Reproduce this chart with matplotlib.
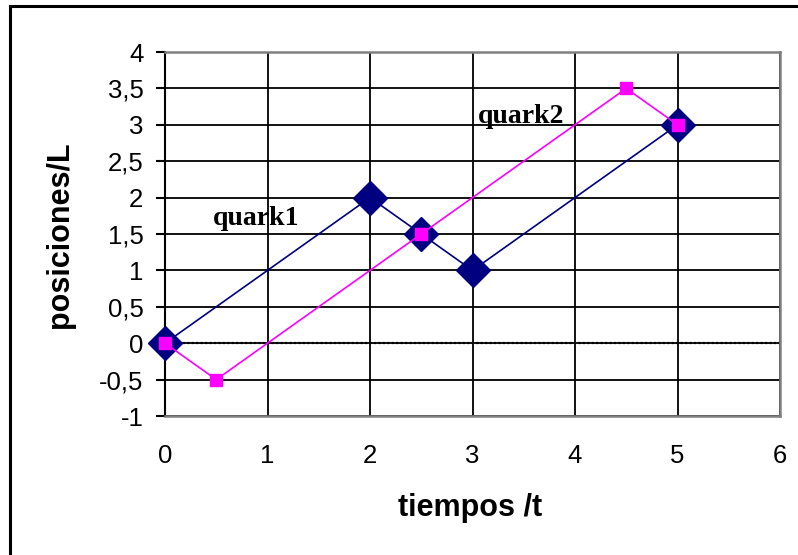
import matplotlib
matplotlib.use('Agg')
import matplotlib.pyplot as plt
from matplotlib.lines import Line2D

# data
q1_t = [0, 2, 2.5, 3, 5]
q1_x = [0, 2, 1.5, 1, 3]
q2_t = [0, 0.5, 2.5, 4.5, 5]
q2_x = [0, -0.5, 1.5, 3.5, 3]

x_ticks = [0, 1, 2, 3, 4, 5, 6]
y_ticks = [-1, -0.5, 0, 0.5, 1, 1.5, 2, 2.5, 3, 3.5, 4]
y_ticklabels = ['-1', '-0,5', '0', '0,5', '1', '1,5', '2', '2,5', '3', '3,5', '4']

plt.rcParams['font.family'] = ['Liberation Sans', 'DejaVu Sans']

fig = plt.figure(figsize=(7.98, 5.55), dpi=100)
ax = fig.add_axes([165 / 798, 1 - 416 / 555, 615 / 798, 364 / 555])

# outer chart frame (only left and top edges are inside the picture)
fig.add_artist(Line2D([10 / 798, 10 / 798], [0, 1 - 6 / 555], color='black', lw=2.2,
                      transform=fig.transFigure))
fig.add_artist(Line2D([10 / 798, 1], [1 - 6 / 555, 1 - 6 / 555], color='black', lw=2.2,
                      transform=fig.transFigure))

ax.set_xlim(0, 6)
ax.set_ylim(-1, 4)
ax.set_xticks(x_ticks)
ax.set_yticks(y_ticks)
ax.set_yticklabels(y_ticklabels)
ax.grid(True, color='black', lw=1.3, zorder=0)

# dotted zero line
ax.axhline(0, color='white', lw=2.2, zorder=1)
ax.axhline(0, color='black', lw=1.6, ls=(0, (1, 1)), zorder=1)

ax.plot(q1_t, q1_x, color='#000080', lw=1.2, marker='D', ms=17, zorder=3, clip_on=False)
ax.plot(q2_t, q2_x, color='#FF00FF', lw=1.2, marker='s', ms=8, zorder=4, clip_on=False)

ax.text(0.47, 1.62, 'quark1', family='Liberation Serif', fontweight='bold', fontsize=20)
ax.text(3.05, 3.03, 'quark2', family='Liberation Serif', fontweight='bold', fontsize=20)

for s in ['top', 'right', 'bottom']:
    ax.spines[s].set_color('#808080')
    ax.spines[s].set_linewidth(1.8)
ax.spines['left'].set_color('black')
ax.spines['left'].set_linewidth(1.5)

ax.tick_params(axis='y', length=6.5, width=1.5, pad=9, labelsize=18.5)
ax.tick_params(axis='x', length=0, pad=20, labelsize=18.5)

ax.set_xlabel('tiempos /t', fontsize=22, fontweight='bold')
ax.set_ylabel('posiciones/L', fontsize=22, fontweight='bold')
ax.xaxis.set_label_coords(0.496, -0.253)
ax.xaxis.label.set_va('center')
ax.yaxis.set_label_coords(-0.171, 0.497)
ax.yaxis.label.set_va('center')

fig.savefig('out.png', dpi=100)
